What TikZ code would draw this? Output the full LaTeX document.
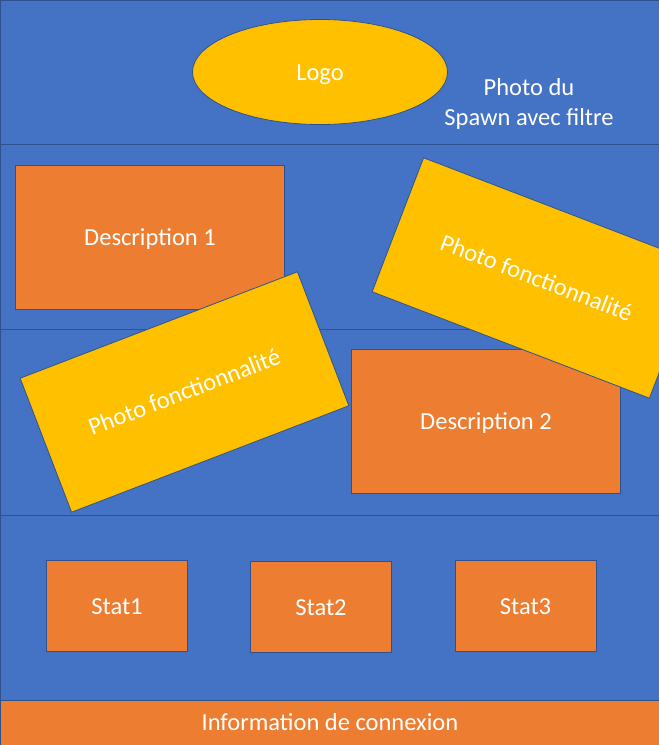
\documentclass[tikz,border=0pt]{standalone}
\usepackage{fontspec}
\setmainfont{Carlito}
\usetikzlibrary{shapes.geometric}
\definecolor{bandblue}{HTML}{4472C4}
\definecolor{edgeblue}{HTML}{2F528F}
\definecolor{boxorange}{HTML}{ED7D31}
\definecolor{photogold}{HTML}{FFC000}
\tikzset{
  band/.style={fill=bandblue, draw=edgeblue, line width=0.8pt},
  lbl/.style={text=white, font=\fontsize{24.5}{30}\selectfont, text height=19pt, text depth=3pt},
  obox/.style={fill=boxorange, draw=edgeblue, line width=0.8pt, inner sep=0pt, lbl},
  pbox/.style={fill=photogold, draw=edgeblue, line width=0.8pt, inner sep=0pt, lbl,
    minimum width=297pt, minimum height=143.5pt},
}
\begin{document}
\begin{tikzpicture}[x=1pt,y=-1pt]
\useasboundingbox (0,0) rectangle (659,745);
\clip (0,0) rectangle (659,745);
% bands
\draw[band] (0,0) rectangle (659,144);
\draw[band] (0,144) rectangle (659,329);
\draw[band] (0,329) rectangle (659,515);
\draw[band] (0,515) rectangle (659,700);
\node[obox, minimum width=659pt, minimum height=45pt, anchor=north west] (footer) at (0,700) {Information de connexion};
% top
\node[ellipse, fill=photogold, draw=edgeblue, line width=0.8pt, minimum width=255pt, minimum height=105pt, lbl] (logo) at (320,72) {Logo};
\node[lbl, align=center] (spawn) at (529,117) {Photo du\\Spawn avec filtre};
% descriptions
\node[obox, minimum width=269pt, minimum height=144pt] (desc1) at (150,237) {Description 1};
\node[obox, minimum width=269pt, minimum height=144pt] (desc2) at (486,421) {Description 2};
% photos
\node[pbox, rotate=-21] (photo1) at (536.5,278) {Photo fonctionnalité};
\node[pbox, rotate=21] (photo2) at (184.5,392) {Photo fonctionnalité};
% stats
\node[obox, minimum width=141pt, minimum height=91pt] (stat1) at (117,606) {Stat1};
\node[obox, minimum width=141pt, minimum height=91pt] (stat2) at (321,607) {Stat2};
\node[obox, minimum width=141pt, minimum height=91pt] (stat3) at (525.5,606) {Stat3};
\end{tikzpicture}
\end{document}
